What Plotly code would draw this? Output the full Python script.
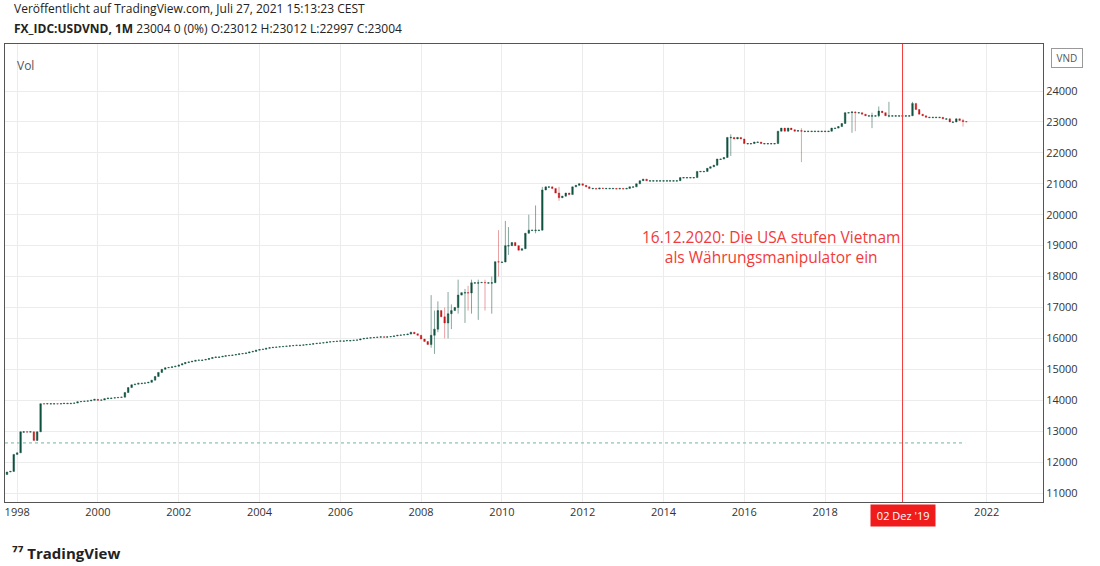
import pandas as pd
import plotly.graph_objects as go

# monthly closes, Oct 1997 .. Jul 2021
closes_1997 = [11680, 11700, 12250]
closes_1998 = [12300, 12980, 12980, 12970, 12980, 12700, 12980, 13890, 13880, 13890, 13890, 13890]
closes_1999 = [13880, 13890, 13900, 13900, 13900, 13910, 13950, 13960, 13970, 13980, 14000, 14030]
closes_2000 = [14000, 14010, 14050, 14070, 14070, 14080, 14090, 14100, 14250, 14410, 14500, 14520]
closes_2001 = [14550, 14550, 14560, 14580, 14650, 14770, 14900, 15000, 15050, 15060, 15080, 15100]
closes_2002 = [15140, 15180, 15220, 15240, 15260, 15290, 15300, 15300, 15320, 15350, 15380, 15400]
closes_2003 = [15400, 15420, 15440, 15450, 15460, 15480, 15500, 15510, 15530, 15560, 15580, 15620]
closes_2004 = [15640, 15650, 15680, 15700, 15710, 15720, 15730, 15740, 15750, 15760, 15770, 15780]
closes_2005 = [15780, 15790, 15800, 15810, 15830, 15840, 15850, 15860, 15880, 15890, 15900, 15910]
closes_2006 = [15920, 15920, 15930, 15930, 15940, 15950, 15980, 16000, 16010, 16020, 16030, 16040]
closes_2007 = [16050, 16040, 16050, 16060, 16080, 16100, 16110, 16120, 16140, 16200, 16150, 16100]
closes_2008 = [15980, 15900, 15800, 16100, 16300, 16900, 16700, 16500, 16800, 16900, 17000, 17400]
closes_2009 = [17480, 17480, 17470, 17800, 17800, 17800, 17810, 17800, 17800, 17800, 18480, 18470]
closes_2010 = [18470, 19000, 19000, 19100, 19000, 18850, 18900, 19400, 19500, 19500, 19500, 19500]
closes_2011 = [20800, 20900, 20900, 20850, 20700, 20550, 20600, 20700, 20650, 20900, 20950, 21000]
closes_2012 = [20950, 20900, 20850, 20850, 20830, 20860, 20850, 20850, 20850, 20850, 20830, 20850]
closes_2013 = [20830, 20850, 20900, 20900, 21000, 21100, 21150, 21100, 21100, 21100, 21100, 21100]
closes_2014 = [21100, 21100, 21100, 21100, 21100, 21200, 21200, 21200, 21200, 21200, 21400, 21400]
closes_2015 = [21400, 21500, 21550, 21600, 21800, 21800, 21850, 22500, 22500, 22450, 22500, 22450]
closes_2016 = [22300, 22300, 22300, 22350, 22350, 22300, 22300, 22300, 22300, 22300, 22700, 22800]
closes_2017 = [22700, 22800, 22750, 22700, 22720, 22700, 22700, 22700, 22700, 22700, 22700, 22700]
closes_2018 = [22700, 22700, 22800, 22800, 22850, 22950, 23300, 23300, 23320, 23300, 23300, 23250]
closes_2019 = [23200, 23200, 23200, 23200, 23350, 23300, 23200, 23200, 23200, 23200, 23200, 23200]
closes_2020 = [23200, 23200, 23600, 23400, 23250, 23200, 23150, 23150, 23150, 23150, 23150, 23100]
closes_2021 = [23100, 23000, 23000, 23100, 23050, 23012, 23004]

# notable wicks: month -> (high, low)
wicks = {
    "2008-04": (17400, 15700), "2008-05": (16900, 15500), "2008-06": (17200, 16200),
    "2008-08": (17000, 16000), "2008-09": (17500, 16000), "2008-10": (17100, 16300),
    "2008-12": (17900, 16800), "2009-02": (17600, 16500), "2009-03": (17700, 16900),
    "2009-04": (17900, 16800), "2009-06": (17900, 16600), "2009-08": (17900, 16900),
    "2009-10": (18000, 16800), "2009-12": (19500, 18000), "2010-02": (19800, 18600),
    "2010-03": (19600, 18700), "2010-09": (20000, 19400), "2010-11": (20300, 19400),
    "2011-01": (20900, 19500), "2011-06": (20900, 20450), "2017-06": (22800, 21700),
    "2015-09": (22600, 21900), "2018-09": (23350, 22650), "2018-10": (23350, 22700),
    "2019-03": (23300, 22800), "2019-05": (23500, 23150), "2019-08": (23650, 23150),
    "2020-03": (23650, 23200), "2021-06": (23100, 22850),
}

closes = (closes_1997 + closes_1998 + closes_1999 + closes_2000 + closes_2001 + closes_2002
          + closes_2003 + closes_2004 + closes_2005 + closes_2006 + closes_2007 + closes_2008
          + closes_2009 + closes_2010 + closes_2011 + closes_2012 + closes_2013 + closes_2014
          + closes_2015 + closes_2016 + closes_2017 + closes_2018 + closes_2019 + closes_2020
          + closes_2021)
dates = pd.date_range("1997-10-01", periods=len(closes), freq="MS")
df = pd.DataFrame({"date": dates, "close": closes})
df["open"] = df["close"].shift(1).fillna(11600)
df.loc[df.index[-1], "open"] = 23012
# flat months: show as tiny up candles
flat = df["open"] == df["close"]
df.loc[flat, "open"] = df.loc[flat, "close"] - 15
df["high"] = df[["open", "close"]].max(axis=1)
df["low"] = df[["open", "close"]].min(axis=1)
for m, (h, l) in wicks.items():
    i = df.index[df["date"].dt.strftime("%Y-%m") == m]
    df.loc[i, "high"] = h
    df.loc[i, "low"] = l

GREEN = "#0f5240"
RED = "#c5161a"
years = [1998, 2000, 2002, 2004, 2006, 2008, 2010, 2012, 2014, 2016, 2018, 2022]

fig = go.Figure()
fig.add_trace(go.Candlestick(
    x=df["date"], open=df["open"], high=df["high"], low=df["low"], close=df["close"],
    increasing=dict(line=dict(color="rgba(15,82,64,0.5)", width=1), fillcolor=GREEN),
    decreasing=dict(line=dict(color="rgba(197,22,26,0.4)", width=1), fillcolor=RED),
    whiskerwidth=0, showlegend=False, hoverinfo="x+y",
))

# dotted reference line
fig.add_trace(go.Scatter(x=["1997-09-13", "2021-06-20"], y=[12620, 12620], mode="lines",
                         line=dict(color="#6fb5a3", width=1, dash="dot"), showlegend=False))

fig.add_shape(type="line", x0="2019-12-02", x1="2019-12-02", y0=0, y1=1, yref="paper",
              line=dict(color="#f23a3a", width=1))

fig.update_layout(
    width=1100, height=566,
    margin=dict(l=5, r=57, t=44, b=64),
    paper_bgcolor="white", plot_bgcolor="white",
    font=dict(family="Open Sans, sans-serif", size=11, color="#333"),
    xaxis=dict(range=["1997-09-13", "2023-05-25"], rangeslider=dict(visible=False),
               tickvals=[f"{y}-01-01" for y in years],
               ticktext=[str(y) for y in years],
               showgrid=True, gridcolor="#ececec", mirror=True, showline=True,
               linecolor="#555", ticks="", tickfont=dict(size=11, color="#333")),
    yaxis=dict(side="right", range=[10710, 25520],
               tickvals=list(range(11000, 25000, 1000)), showgrid=True,
               gridcolor="#ececec", showline=True, linecolor="#555", mirror=True,
               ticks="", tickformat="d", tickfont=dict(size=11, color="#333")),
    annotations=[
        dict(x=0.007, y=1.012, xref="paper", yref="paper", xanchor="left", yanchor="bottom",
             text="<b>FX_IDC:USDVND, 1M</b> 23004 0 (0%) O:23012 H:23012 L:22997 C:23004",
             showarrow=False, font=dict(size=12, color="#222")),
        dict(x=0.007, y=1.055, xref="paper", yref="paper", xanchor="left", yanchor="bottom",
             text="Veröffentlicht auf TradingView.com, Juli 27, 2021 15:13:23 CEST",
             showarrow=False, font=dict(size=12, color="#222")),
        dict(x=0.01, y=0.975, xref="paper", yref="paper", xanchor="left", yanchor="top",
             text="Vol", showarrow=False, font=dict(size=12, color="#555")),
        dict(x="2016-09-01", y=18950, text="16.12.2020: Die USA stufen Vietnam<br>als Währungsmanipulator ein",
             showarrow=False, font=dict(size=15.5, color="#f23a3a"), align="center"),
        dict(x="2019-12-02", y=-0.005, yref="paper", yanchor="top", text=" 02 Dez '19 ",
             showarrow=False, bgcolor="#f01c1c", font=dict(size=11, color="white"), borderpad=3),
        dict(x=1.0, y=0.97, xref="paper", yref="paper", xanchor="left", yanchor="middle",
             text=" VND ", showarrow=False, bordercolor="#999", borderwidth=1, borderpad=2,
             xshift=8, font=dict(size=10, color="#555"), bgcolor="white"),
        dict(x=0.005, y=-0.085, xref="paper", yref="paper", xanchor="left", yanchor="top",
             text="<b>⁷⁷ TradingView</b>", showarrow=False, font=dict(size=15, color="#222")),
    ],
)

fig.write_html("out.html", config={"displayModeBar": False},
               post_script="document.body.style.margin='0';")
